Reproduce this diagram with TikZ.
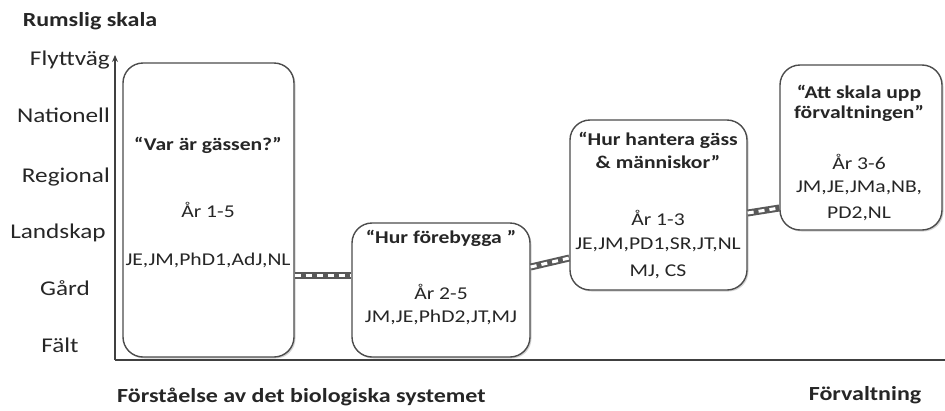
\documentclass[tikz,border=0pt]{standalone}
\usepackage{fontspec}
\setmainfont{Carlito}[FakeStretch=1.2]
\usetikzlibrary{arrows.meta,shadows}
\begin{document}
\begin{tikzpicture}[x=1pt,y=-1pt,
  ink/.style={text=black!85},
  lbl/.style={ink,inner sep=0pt,font=\fontsize{21}{23}\selectfont},
  boxtxt/.style={ink,inner sep=0pt,font=\fontsize{18}{20}\selectfont},
  boxttl/.style={ink,inner sep=0pt,font=\fontsize{18}{20}\selectfont\bfseries},
  phase/.style={draw=black!70,line width=1.4pt,fill=white,rounded corners=20pt,
    inner sep=0pt,drop shadow={opacity=0.35,shadow xshift=1.5pt,shadow yshift=-1.5pt}},
  chainouter/.style={line width=7pt,draw=black!65},
  chaininner/.style={line width=3pt,draw=white,dash pattern=on 6pt off 5pt},
  axis/.style={draw=black!75,line width=1.4pt}]
\useasboundingbox (0,0) rectangle (945,410);

% axes
\coordinate (O) at (115,360);
\coordinate (ytop) at (115,55);
\coordinate (xend) at (945,360);
\draw[axis,-{Stealth[length=7pt,width=6pt]}] (O) -- (ytop);
\draw[axis,line width=2pt] (O) -- (xend);

% axis labels
\node[ink,inner sep=0pt,font=\fontsize{20}{22}\selectfont\bfseries] (title) at (90,21) {Rumslig skala};
\node[lbl,anchor=east] (l1) at (110,60) {Flyttväg};
\node[lbl,anchor=east] (l2) at (110,115) {Nationell};
\node[lbl,anchor=east] (l3) at (110,177) {Regional};
\node[lbl] (l4) at (58,233) {Landskap};
\node[lbl] (l5) at (65,288) {Gård};
\node[lbl] (l6) at (60,345) {Fält};
\node[ink,inner sep=0pt,anchor=west,font=\fontsize{20}{22}\selectfont\bfseries] (bx1) at (117,397) {Förståelse av det biologiska systemet};
\node[ink,inner sep=0pt,font=\fontsize{20}{22}\selectfont\bfseries] (bx2) at (865,395) {Förvaltning};

% boxes
\node[phase,minimum width=171pt,minimum height=294pt] (b1) at (208.5,210) {};
\node[phase,minimum width=178pt,minimum height=134pt] (b2) at (441,290) {};
\node[phase,minimum width=177pt,minimum height=170pt] (b3) at (658.5,205) {};
\node[phase,minimum width=162pt,minimum height=165pt] (b4) at (861,147.5) {};

% box 1 text
\node[boxttl] (t11) at (208,145) {“Var är gässen?”};
\node[boxtxt] (t12) at (208,210) {År 1-5};
\node[boxtxt] (t13) at (208,260) {JE,JM,PhD1,AdJ,NL};
% box 2 text
\node[boxttl] (t21) at (441,238) {“Hur förebygga ”};
\node[boxtxt] (t22) at (441,292) {År 2-5};
\node[boxtxt] (t23) at (441,317) {JM,JE,PhD2,JT,MJ};
% box 3 text
\node[boxttl] (t31) at (658,140) {“Hur hantera gäss};
\node[boxttl] (t32) at (658,162) {\& människor”};
\node[boxtxt] (t33) at (658,218) {År 1-3};
\node[boxtxt] (t34) at (658,245) {JE,JM,PD1,SR,JT,NL};
\node[boxtxt] (t35) at (658,272) {MJ, CS};
% box 4 text
\node[boxttl] (t41) at (859,93) {“Att skala upp};
\node[boxttl] (t42) at (859,113) {förvaltningen”};
\node[boxtxt] (t43) at (859,162) {År 3-6};
\node[boxtxt] (t44) at (859,188) {JM,JE,JMa,NB,};
\node[boxtxt] (t45) at (859,214) {PD2,NL};

% chain connectors
\foreach \a/\ay/\b/\by in {b1/275/b2/275, b2/267/b3/258, b3/213/b4/208}{
  \draw[chainouter] (\a.east |- 0,\ay) -- (\b.west |- 0,\by);
  \draw[chaininner] (\a.east |- 0,\ay) -- (\b.west |- 0,\by);
}
\end{tikzpicture}
\end{document}
